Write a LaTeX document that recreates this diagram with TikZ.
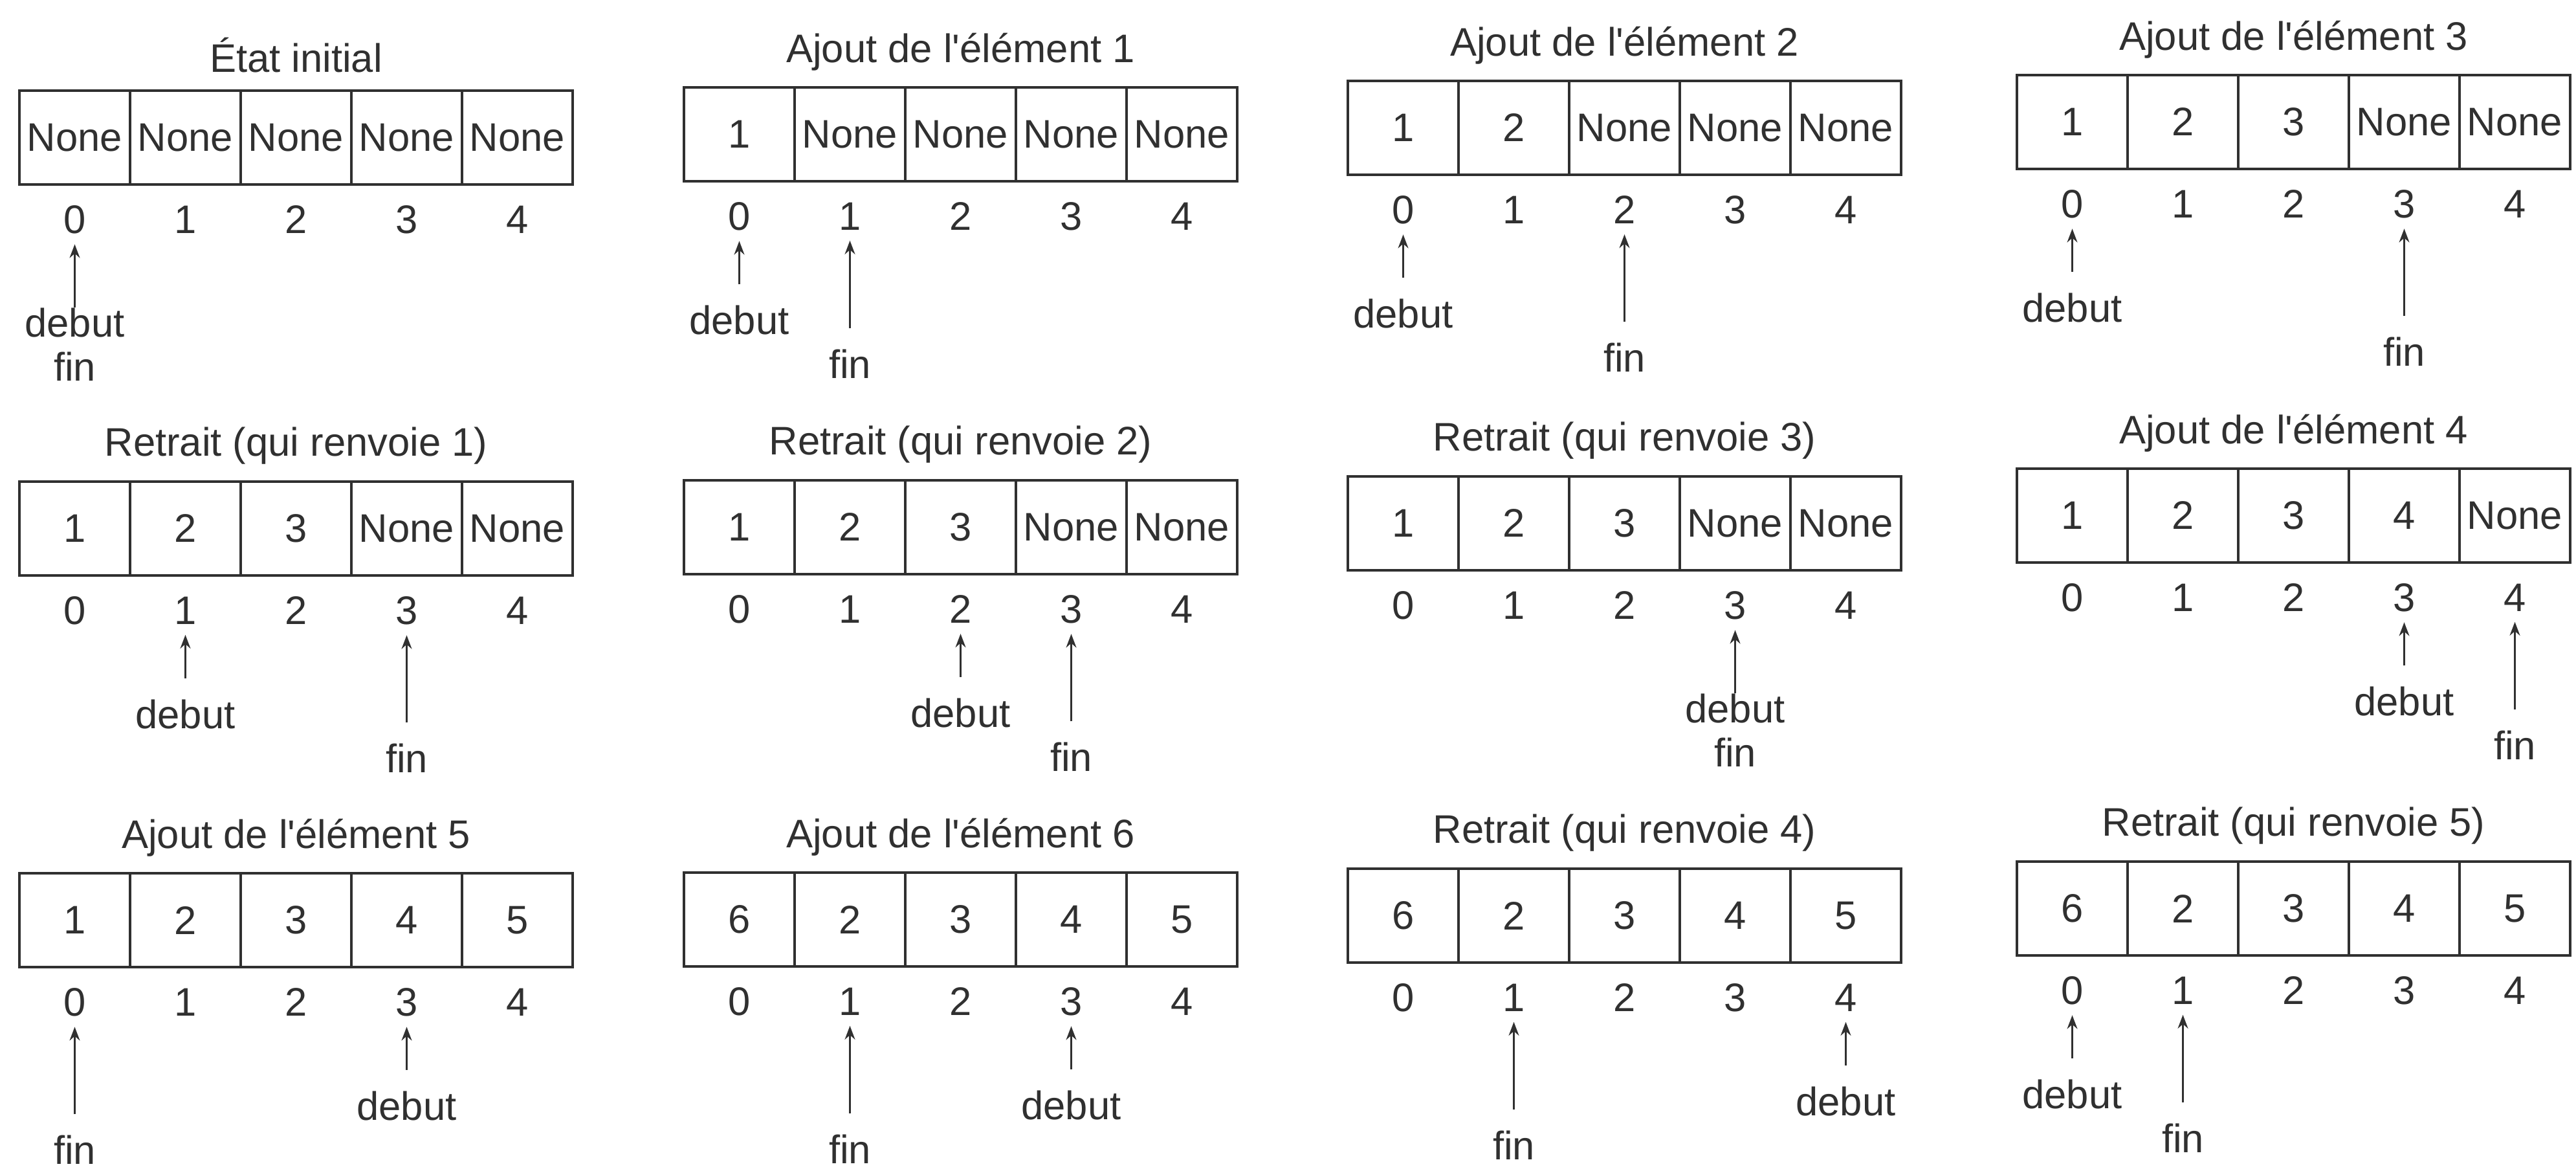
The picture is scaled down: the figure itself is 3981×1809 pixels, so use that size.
\documentclass[tikz,border=0pt]{standalone}
\usepackage{fontspec}
\setmainfont{Liberation Sans}[Ligatures=TeXOff]
\usetikzlibrary{arrows.meta,calc}
\definecolor{ink}{HTML}{303030}
\tikzset{
  cell/.style={draw=ink, line width=1.1pt, minimum width=1.71cm, minimum height=1.45cm, inner sep=0pt, outer sep=0pt, text=ink},
  idx/.style={inner sep=0pt, text=ink},
  lbl/.style={inner sep=0pt, text=ink},
  ttl/.style={inner sep=0pt, text=ink},
  ptr/.style={draw=ink, line width=0.9pt, -{Stealth[length=6pt,width=4.5pt]}, shorten <=9pt, shorten >=4.5pt}
}
\newcommand\qpanel[9]{%
  \foreach \k/\v in {0/#5,1/#6,2/#7,3/#8,4/#9} {
    \node[cell] (#1c\k) at ({#2+85.5+171*\k},{-#3+72.5}) {\v};
    \node[idx] (#1i\k) at ({#2+85.5+171*\k},{-#3-54}) {\k};
  }
  \node[ttl] (#1t) at ({#2+427.5},{-#3+200}) {#4};
}
\newcommand\shortptr[3]{%
  \node[lbl] (#1) at ($(#2)+(0,-160)$) {#3};
  \draw[ptr] (#1.north) -- (#2.south);
}
\newcommand\longptr[3]{%
  \node[lbl] (#1) at ($(#2)+(0,-228)$) {#3};
  \draw[ptr] (#1.north) -- (#2.south);
}
\newcommand\bothptr[3]{%
  \node[lbl] (#1deb) at ($(#2)+(0,-159)$) {debut};
  \node[lbl] (#1fin) at ($(#2)+(0,-227)$) {fin};
  \draw[ptr, shorten <=0pt] (#1deb.north) -- (#2.south);
}
\begin{document}
\begin{tikzpicture}[x=0.01cm, y=0.01cm, font=\fontsize{17.5}{21}\selectfont]
\useasboundingbox (0,0) rectangle (3981,-1809);
\fill[white] (0,0) rectangle (3981,-1809);
% Row 1
\qpanel{pa}{30}{285}{État initial}{None}{None}{None}{None}{None}
\bothptr{pa}{pai0}{}
\qpanel{pb}{1057}{280}{Ajout de l'élément 1}{1}{None}{None}{None}{None}
\shortptr{pbd}{pbi0}{debut}
\longptr{pbf}{pbi1}{fin}
\qpanel{pc}{2083}{270}{Ajout de l'élément 2}{1}{2}{None}{None}{None}
\shortptr{pcd}{pci0}{debut}
\longptr{pcf}{pci2}{fin}
\qpanel{pd}{3117}{261}{Ajout de l'élément 3}{1}{2}{3}{None}{None}
\shortptr{pdd}{pdi0}{debut}
\longptr{pdf}{pdi3}{fin}
% Row 2
\qpanel{pe}{30}{889}{Retrait (qui renvoie 1)}{1}{2}{3}{None}{None}
\shortptr{ped}{pei1}{debut}
\longptr{pef}{pei3}{fin}
\qpanel{pf}{1057}{887}{Retrait (qui renvoie 2)}{1}{2}{3}{None}{None}
\shortptr{pfd}{pfi2}{debut}
\longptr{pff}{pfi3}{fin}
\qpanel{pg}{2083}{881}{Retrait (qui renvoie 3)}{1}{2}{3}{None}{None}
\bothptr{pg}{pgi3}{}
\qpanel{ph}{3117}{869}{Ajout de l'élément 4}{1}{2}{3}{4}{None}
\shortptr{phd}{phi3}{debut}
\longptr{phf}{phi4}{fin}
% Row 3
\qpanel{pi}{30}{1494}{Ajout de l'élément 5}{1}{2}{3}{4}{5}
\longptr{pif}{pii0}{fin}
\shortptr{pid}{pii3}{debut}
\qpanel{pj}{1057}{1493}{Ajout de l'élément 6}{6}{2}{3}{4}{5}
\longptr{pjf}{pji1}{fin}
\shortptr{pjd}{pji3}{debut}
\qpanel{pk}{2083}{1487}{Retrait (qui renvoie 4)}{6}{2}{3}{4}{5}
\longptr{pkf}{pki1}{fin}
\shortptr{pkd}{pki4}{debut}
\qpanel{pl}{3117}{1476}{Retrait (qui renvoie 5)}{6}{2}{3}{4}{5}
\shortptr{pld}{pli0}{debut}
\longptr{plf}{pli1}{fin}
\end{tikzpicture}
\end{document}
